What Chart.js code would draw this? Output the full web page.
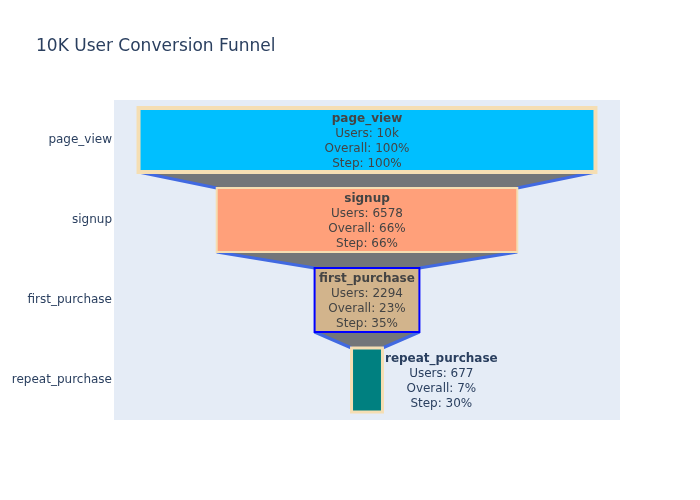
<!DOCTYPE html>
<html>
<head>
<meta charset="utf-8">
<script src="https://cdn.jsdelivr.net/npm/chart.js@4.4.1/dist/chart.umd.min.js"></script>
<style>
  html, body { margin: 0; padding: 0; background: #fff; }
  #wrap { width: 700px; height: 500px; position: relative; }
</style>
</head>
<body>
<div id="wrap"><canvas id="c" width="700" height="500"></canvas></div>
<script>
// ---- data ----
const stages = ['page_view', 'signup', 'first_purchase', 'repeat_purchase'];
const users = [10000, 6578, 2294, 677];
const usersText = ['10k', '6578', '2294', '677'];
const overallPct = ['100%', '66%', '23%', '7%'];
const stepPct = ['100%', '66%', '35%', '30%'];
const fillColors = ['#00bfff', '#ffa07a', '#d2b48c', '#008080'];
const edgeColors = ['#f5deb3', '#f5deb3', '#0000ff', '#f5deb3'];
const edgeWidths = [4, 2, 2, 3];
const titleText = '10K User Conversion Funnel';

const FONT = '"DejaVu Sans", Verdana, Arial, sans-serif';
const xHalf = 5537;

const bgPlugin = {
  id: 'bg',
  beforeDraw(chart) {
    const { ctx, chartArea: a } = chart;
    ctx.save();
    ctx.fillStyle = '#e5ecf6';
    ctx.fillRect(a.left, a.top, a.right - a.left, a.bottom - a.top);
    ctx.fillStyle = '#2a3f5f';
    ctx.font = '17px ' + FONT;
    ctx.textBaseline = 'alphabetic';
    ctx.textAlign = 'left';
    ctx.fillText(titleText, 36, 51);
    ctx.restore();
  }
};

function barRect(el) {
  const p = el.getProps(['x', 'y', 'base', 'height'], true);
  const l = Math.min(p.x, p.base), r = Math.max(p.x, p.base);
  return { l, r, t: p.y - p.height / 2, b: p.y + p.height / 2, cy: p.y };
}

const funnelPlugin = {
  id: 'funnel',
  beforeDatasetsDraw(chart) {
    const { ctx } = chart;
    const meta = chart.getDatasetMeta(0);
    ctx.save();
    for (let i = 0; i < meta.data.length - 1; i++) {
      const a = barRect(meta.data[i]);
      const b = barRect(meta.data[i + 1]);
      ctx.beginPath();
      ctx.moveTo(a.l, a.b);
      ctx.lineTo(a.r, a.b);
      ctx.lineTo(b.r, b.t);
      ctx.lineTo(b.l, b.t);
      ctx.closePath();
      ctx.fillStyle = '#737679';
      ctx.fill();
      ctx.strokeStyle = '#4169e1';
      ctx.lineWidth = 3;
      ctx.beginPath();
      ctx.moveTo(a.l, a.b); ctx.lineTo(b.l, b.t);
      ctx.moveTo(a.r, a.b); ctx.lineTo(b.r, b.t);
      ctx.stroke();
    }
    ctx.restore();
  },
  afterDatasetsDraw(chart) {
    const { ctx } = chart;
    const meta = chart.getDatasetMeta(0);
    ctx.save();
    meta.data.forEach((el, i) => {
      const r = barRect(el);
      ctx.strokeStyle = edgeColors[i];
      ctx.lineWidth = edgeWidths[i];
      ctx.strokeRect(r.l, r.t, r.r - r.l, r.b - r.t);
    });
    // text
    meta.data.forEach((el, i) => {
      const r = barRect(el);
      const lines = [stages[i], 'Users: ' + usersText[i], 'Overall: ' + overallPct[i], 'Step: ' + stepPct[i]];
      ctx.font = 'bold 12px ' + FONT;
      const wBold = ctx.measureText(lines[0]).width;
      ctx.font = '12px ' + FONT;
      let w = wBold;
      for (let k = 1; k < 4; k++) w = Math.max(w, ctx.measureText(lines[k]).width);
      const inside = (r.r - r.l) > w + 4;
      let cx, color;
      if (inside) { cx = (r.l + r.r) / 2; color = '#444444'; }
      else { cx = r.r + edgeWidths[i] / 2 + 1 + w / 2; color = '#2a3f5f'; }
      const lh = 15;
      const y0 = r.cy - lh * 1.5 + 1.5;
      ctx.fillStyle = color;
      ctx.textAlign = 'center';
      ctx.textBaseline = 'middle';
      lines.forEach((s, k) => {
        ctx.font = (k === 0 ? 'bold ' : '') + '12px ' + FONT;
        ctx.fillText(s, cx, y0 + k * lh);
      });
    });
    ctx.restore();
  }
};

new Chart(document.getElementById('c'), {
  type: 'bar',
  data: {
    labels: stages,
    datasets: [{
      data: users.map(v => [-v / 2, v / 2]),
      backgroundColor: fillColors,
      borderWidth: 0,
      barPercentage: 0.8,
      categoryPercentage: 1.0
    }]
  },
  options: {
    indexAxis: 'y',
    responsive: false,
    animation: false,
    devicePixelRatio: 1,
    layout: { padding: { top: 100, right: 80, bottom: 80, left: 0 } },
    plugins: { legend: { display: false }, tooltip: { enabled: false }, title: { display: false } },
    scales: {
      x: { display: false, min: -xHalf, max: xHalf },
      y: {
        grid: { display: false, drawTicks: false },
        border: { display: false },
        ticks: { color: '#2a3f5f', font: { family: FONT, size: 12 }, padding: 2 },
        afterFit(scale) { scale.width = 114; }
      }
    }
  },
  plugins: [bgPlugin, funnelPlugin]
});
</script>
</body>
</html>
